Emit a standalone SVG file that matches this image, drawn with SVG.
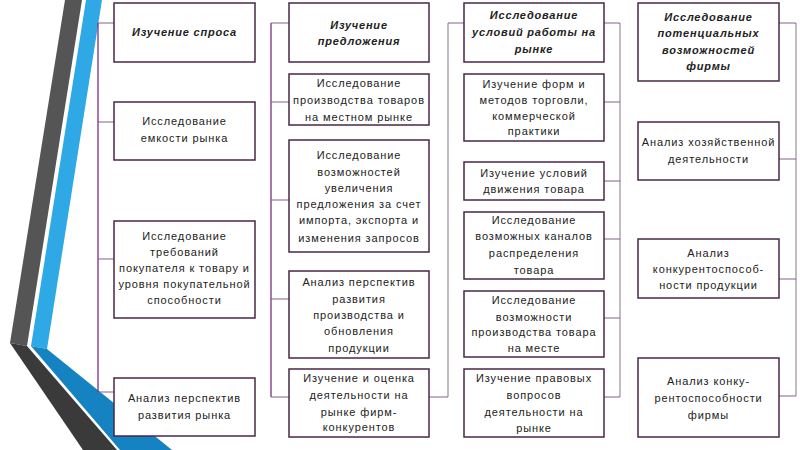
<svg xmlns="http://www.w3.org/2000/svg" width="800" height="450" viewBox="0 0 800 450">
<style>
.box{fill:#fff;stroke:#4a2648;stroke-width:1.5}
.t{font-family:"Liberation Sans",Arial,sans-serif;font-size:11px;fill:#222;text-anchor:middle;letter-spacing:0.9px}
.ti{font-style:italic;font-weight:bold;letter-spacing:0.8px}
.cp{stroke:#7b2c82;stroke-width:1.3;fill:none}
.cg{stroke:#a395a3;stroke-width:1.3;fill:none}
.ck{stroke:#86608a;stroke-width:1.2;fill:none}
</style>
<rect width="800" height="450" fill="#fff"/>
<g id="decor">
<polygon points="65,0 82,0 27,346 10,343" fill="#555555"/>
<polygon points="10,343 27,346 117,450 83,450" fill="#3a3a3a"/>
<polygon points="86,0 102,0 47,349 31,346" fill="#2fa9e6"/>
<polygon points="31,346 47,349 172,450 120,450" fill="#1583c1"/>
</g>
<g id="connectors">
<path class="cp" d="M98,23 V392"/>
<path class="ck" d="M98,23 H114 M98,122 H114 M98,259 H114 M98,392 H114"/>
<path class="cp" d="M271,23 V397"/>
<path class="ck" d="M271,23 H289 M271,102 H289 M271,200 H289 M271,299 H289 M271,397 H289"/>
<path class="cg" d="M448,23 V397"/>
<path class="ck" d="M448,23 H464 M429,397 H448"/>
<path class="cg" d="M620,23 V397"/>
<path class="ck" d="M604,23 H620 M604,102 H620 M604,181 H620 M604,239 H620 M604,318 H620 M604,397 H620"/>
<path class="cg" d="M796,23 V396"/>
<path class="ck" d="M779,23 H796 M779,159 H796 M779,279 H796 M779,396 H796"/>
</g>
<g id="n1_1"><rect class="box" x="114" y="3" width="141" height="59"/>
<text class="t ti" x="184.5" y="36">Изучение спроса</text></g>
<g id="n1_2"><rect class="box" x="114" y="102" width="141" height="58"/>
<text class="t" x="184.5" y="125">Исследование</text><text class="t" x="184.5" y="142">емкости рынка</text></g>
<g id="n1_3"><rect class="box" x="114" y="221" width="141" height="97"/>
<text class="t" x="184.5" y="240">Исследование</text><text class="t" x="184.5" y="256">требований</text><text class="t" x="184.5" y="272">покупателя к товару и</text><text class="t" x="184.5" y="288">уровня покупательной</text><text class="t" x="184.5" y="304">способности</text></g>
<g id="n1_4"><rect class="box" x="114" y="378" width="141" height="58"/>
<text class="t" x="184.5" y="402">Анализ перспектив</text><text class="t" x="184.5" y="419">развития рынка</text></g>

<g id="n2_1"><rect class="box" x="289" y="3" width="140" height="59"/>
<text class="t ti" x="359" y="29">Изучение</text><text class="t ti" x="359" y="45">предложения</text></g>
<g id="n2_2"><rect class="box" x="289" y="74" width="140" height="51"/>
<text class="t" x="359" y="87">Исследование</text><text class="t" x="359" y="104">производства товаров</text><text class="t" x="359" y="121">на местном рынке</text></g>
<g id="n2_3"><rect class="box" x="289" y="140" width="140" height="112"/>
<text class="t" x="359" y="159">Исследование</text><text class="t" x="359" y="176">возможностей</text><text class="t" x="359" y="192">увеличения</text><text class="t" x="359" y="208">предложения за счет</text><text class="t" x="359" y="224">импорта, экспорта и</text><text class="t" x="359" y="242">изменения запросов</text></g>
<g id="n2_4"><rect class="box" x="289" y="271" width="140" height="87"/>
<text class="t" x="359" y="286">Анализ перспектив</text><text class="t" x="359" y="303">развития</text><text class="t" x="359" y="319">производства и</text><text class="t" x="359" y="335">обновления</text><text class="t" x="359" y="352">продукции</text></g>
<g id="n2_5"><rect class="box" x="289" y="369" width="140" height="68"/>
<text class="t" x="359" y="382">Изучение и оценка</text><text class="t" x="359" y="399">деятельности на</text><text class="t" x="359" y="416">рынке фирм-</text><text class="t" x="359" y="431">конкурентов</text></g>

<g id="n3_1"><rect class="box" x="464" y="3" width="140" height="59"/>
<text class="t ti" x="534" y="19">Исследование</text><text class="t ti" x="534" y="36">условий работы на</text><text class="t ti" x="534" y="53">рынке</text></g>
<g id="n3_2"><rect class="box" x="464" y="74" width="140" height="67"/>
<text class="t" x="534" y="88">Изучение форм и</text><text class="t" x="534" y="104">методов торговли,</text><text class="t" x="534" y="120">коммерческой</text><text class="t" x="534" y="135">практики</text></g>
<g id="n3_3"><rect class="box" x="464" y="162" width="140" height="38"/>
<text class="t" x="534" y="177">Изучение условий</text><text class="t" x="534" y="193">движения товара</text></g>
<g id="n3_4"><rect class="box" x="464" y="212" width="140" height="67"/>
<text class="t" x="534" y="224">Исследование</text><text class="t" x="534" y="240">возможных каналов</text><text class="t" x="534" y="257">распределения</text><text class="t" x="534" y="274">товара</text></g>
<g id="n3_5"><rect class="box" x="464" y="291" width="140" height="66"/>
<text class="t" x="534" y="304">Исследование</text><text class="t" x="534" y="321">возможности</text><text class="t" x="534" y="336">производства товара</text><text class="t" x="534" y="352">на месте</text></g>
<g id="n3_6"><rect class="box" x="464" y="369" width="140" height="68"/>
<text class="t" x="534" y="382">Изучение правовых</text><text class="t" x="534" y="399">вопросов</text><text class="t" x="534" y="416">деятельности на</text><text class="t" x="534" y="432">рынке</text></g>

<g id="n4_1"><rect class="box" x="638" y="3" width="141" height="78"/>
<text class="t ti" x="708.5" y="21">Исследование</text><text class="t ti" x="708.5" y="37">потенциальных</text><text class="t ti" x="708.5" y="54">возможностей</text><text class="t ti" x="708.5" y="70">фирмы</text></g>
<g id="n4_2"><rect class="box" x="638" y="122" width="141" height="58"/>
<text class="t" x="708.5" y="146">Анализ хозяйственной</text><text class="t" x="708.5" y="163">деятельности</text></g>
<g id="n4_3"><rect class="box" x="638" y="239" width="141" height="59"/>
<text class="t" x="708.5" y="257">Анализ</text><text class="t" x="708.5" y="273">конкурентоспособ-</text><text class="t" x="708.5" y="289">ности продукции</text></g>
<g id="n4_4"><rect class="box" x="638" y="358" width="141" height="79"/>
<text class="t" x="708.5" y="385">Анализ конку-</text><text class="t" x="708.5" y="402">рентоспособности</text><text class="t" x="708.5" y="419">фирмы</text></g>
</svg>
